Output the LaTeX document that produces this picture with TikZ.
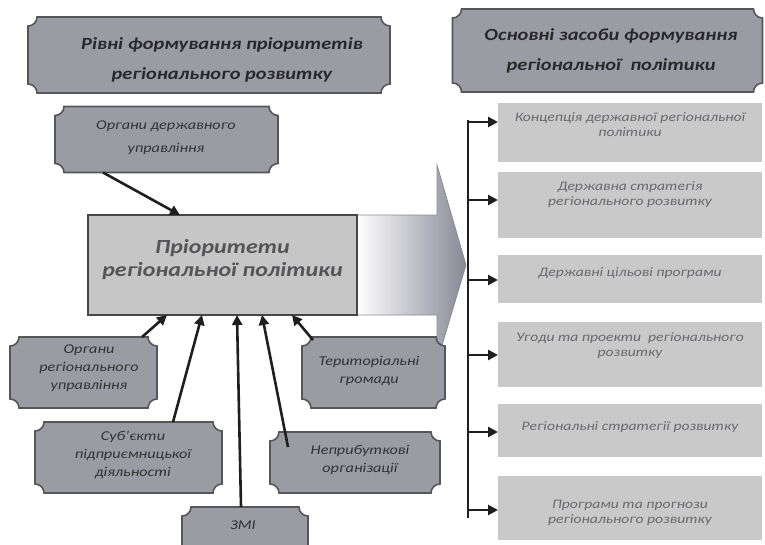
\documentclass[tikz,border=0pt]{standalone}
\usepackage{fontspec}
\newfontfamily\cf[FakeStretch=1.2]{Carlito}
\usetikzlibrary{calc,arrows.meta}
\pgfdeclarelayer{bg}
\pgfsetlayers{bg,main}
\definecolor{plaqfill}{RGB}{155,155,163}
\definecolor{plaqline}{RGB}{85,85,90}
\definecolor{boxfill}{RGB}{201,201,201}
\definecolor{cfill}{RGB}{198,198,198}
\definecolor{arrgray}{RGB}{136,136,150}
\definecolor{ttxt}{RGB}{40,40,44}
\definecolor{stxt}{RGB}{50,50,54}
\definecolor{ctxt}{RGB}{85,85,88}
\definecolor{rtxt}{RGB}{105,105,110}
\newcommand\plaqueon[2][9pt]{%
 \begin{pgfonlayer}{bg}
 \draw[plaquestyle] ([yshift=-#1]#2.north west) arc[start angle=-90,end angle=0,radius=#1]
 -- ([xshift=-#1]#2.north east) arc[start angle=180,end angle=270,radius=#1]
 -- ([yshift=#1]#2.south east) arc[start angle=90,end angle=180,radius=#1]
 -- ([xshift=#1]#2.south west) arc[start angle=0,end angle=90,radius=#1]
 -- cycle;
 \end{pgfonlayer}}
\tikzset{
 plaquestyle/.style={fill=plaqfill,draw=plaqline,line width=1.6pt},
 holder/.style={inner sep=0pt,outer sep=0pt,draw=none},
 ttext/.style={align=center,text=ttxt,font=\cf\bfseries\itshape\fontsize{17}{30}\selectfont},
 stext/.style={align=center,text=stxt,font=\cf\itshape\fontsize{13.5}{18}\selectfont},
 ctext/.style={align=center,text=ctxt,font=\cf\bfseries\itshape\fontsize{20}{23}\selectfont},
 rtext/.style={align=center,text=rtxt,font=\cf\itshape\fontsize{13}{15}\selectfont},
 rbox/.style={holder,fill=boxfill,minimum width=264pt},
 cbox/.style={holder,fill=cfill,draw=black!72,line width=2pt},
 conn/.style={line width=2.6pt,draw=black!88},
 arr/.style={conn,-{Triangle[length=10pt,width=10pt]}},
 bigarrow/.style={draw=black!45,line width=0.8pt,left color=white,right color=arrgray,shading angle=90}
}
\begin{document}
\begin{tikzpicture}[x=1pt,y=-1pt]
\useasboundingbox (0,0) rectangle (765,544);
% titles
\node[holder,minimum width=362pt,minimum height=76pt] (t1) at (209,55) {};
\plaqueon{t1}
\node[ttext] (t1x) at (222,60) {Рівні формування пріоритетів\\регіонального розвитку};
\node[holder,minimum width=310pt,minimum height=83pt] (t2) at (607.5,50.5) {};
\plaqueon{t2}
\node[ttext] (t2x) at (611,51) {Основні засоби формування\\регіональної\ \ політики};
% central box
\node[cbox,minimum width=269pt,minimum height=100pt] (c) at (222.5,265) {};
\node[ctext] (cx) at (222.5,260) {Пріоритети\\регіональної політики};
\begin{pgfonlayer}{bg}
\path[bigarrow] (c.north east) -- ($(c.north east)+(80,0)$) -- ($(c.north east)+(80,-50)$)
 -- ($(c.east)+(109,0)$) -- ($(c.south east)+(80,47)$) -- ($(c.south east)+(80,0)$)
 -- (c.south east) -- cycle;
\end{pgfonlayer}
% left plaques
\node[holder,minimum width=223pt,minimum height=66pt] (s1) at (166.5,139.5) {};
\plaqueon{s1}
\node[stext,font=\cf\itshape\fontsize{13.5}{23}\selectfont] (s1x) at (166,138) {Органи державного\\управління};
\node[holder,minimum width=147pt,minimum height=71pt] (s2) at (83.5,372.5) {};
\plaqueon{s2}
\node[stext] (s2x) at (89,368) {Органи\\регіонального\\управління};
\node[holder,minimum width=187pt,minimum height=71pt] (s3) at (128.5,457.5) {};
\plaqueon{s3}
\node[stext] (s3x) at (133,455) {Суб’єкти\\підприємницької\\діяльності};
\node[holder,minimum width=126pt,minimum height=50pt] (s4) at (245,532) {};
\plaqueon{s4}
\node[stext] (s4x) at (243,525) {ЗМІ};
\node[holder,minimum width=143pt,minimum height=71pt] (s5) at (373.5,372.5) {};
\plaqueon{s5}
\node[stext] (s5x) at (369,371) {Територіальні\\громади};
\node[holder,minimum width=170pt,minimum height=61pt] (s6) at (355,462.5) {};
\plaqueon{s6}
\node[stext] (s6x) at (360,460) {Неприбуткові\\організації};
% arrows into central box
\draw[arr] ($(s1.south west)+(48,0)$) -- ($(c.north west)+(92,0)$);
\draw[arr] ($(s2.north west)+(132,0)$) -- ($(c.south west)+(79,0)$);
\draw[arr] ($(s3.north west)+(138,0)$) -- ($(c.south west)+(114,0)$);
\draw[arr] ($(s4.north west)+(59,0)$) -- ($(c.south west)+(149,0)$);
\draw[arr] ($(s6.north west)+(18,15)$) -- ($(c.south west)+(174,0)$);
\draw[arr] ($(s5.north west)+(11,3)$) -- ($(c.south west)+(204,0)$);
% right boxes
\node[rbox,minimum height=59pt] (r1) at (630,132.5) {};
\node[rtext] (r1x) at (630,125) {Концепція державної регіональної\\політики};
\node[rbox,minimum height=66pt] (r2) at (630,205) {};
\node[rtext] (r2x) at (630,195) {Державна стратегія\\регіонального розвитку};
\node[rbox,minimum height=48pt] (r3) at (630,279) {};
\node[rtext] (r3x) at (630,273) {Державні цільові програми};
\node[rbox,minimum height=65pt] (r4) at (630,354.5) {};
\node[rtext] (r4x) at (630,346) {Угоди та проекти\ \ регіонального\\розвитку};
\node[rbox,minimum height=53pt] (r5) at (630,430.5) {};
\node[rtext] (r5x) at (630,427) {Регіональні стратегії розвитку};
\node[rbox,minimum height=64pt] (r6) at (630,508) {};
\node[rtext] (r6x) at (630,513) {Програми та прогнози\\регіонального розвитку};
% spine
\coordinate (sp1) at (468,120);
\coordinate (sp2) at (468,518);
\draw[conn] (sp1) -- (sp2);
\coordinate (a1) at (468,122);
\coordinate (a2) at (468,200);
\coordinate (a3) at (468,280);
\coordinate (a4) at (468,355);
\coordinate (a5) at (468,432);
\coordinate (a6) at (468,510);
\draw[arr] (a1) -- (a1 -| r1.west);
\draw[arr] (a2) -- (a2 -| r2.west);
\draw[arr] (a3) -- (a3 -| r3.west);
\draw[arr] (a4) -- (a4 -| r4.west);
\draw[arr] (a5) -- (a5 -| r5.west);
\draw[arr] (a6) -- (a6 -| r6.west);
\end{tikzpicture}
\end{document}
